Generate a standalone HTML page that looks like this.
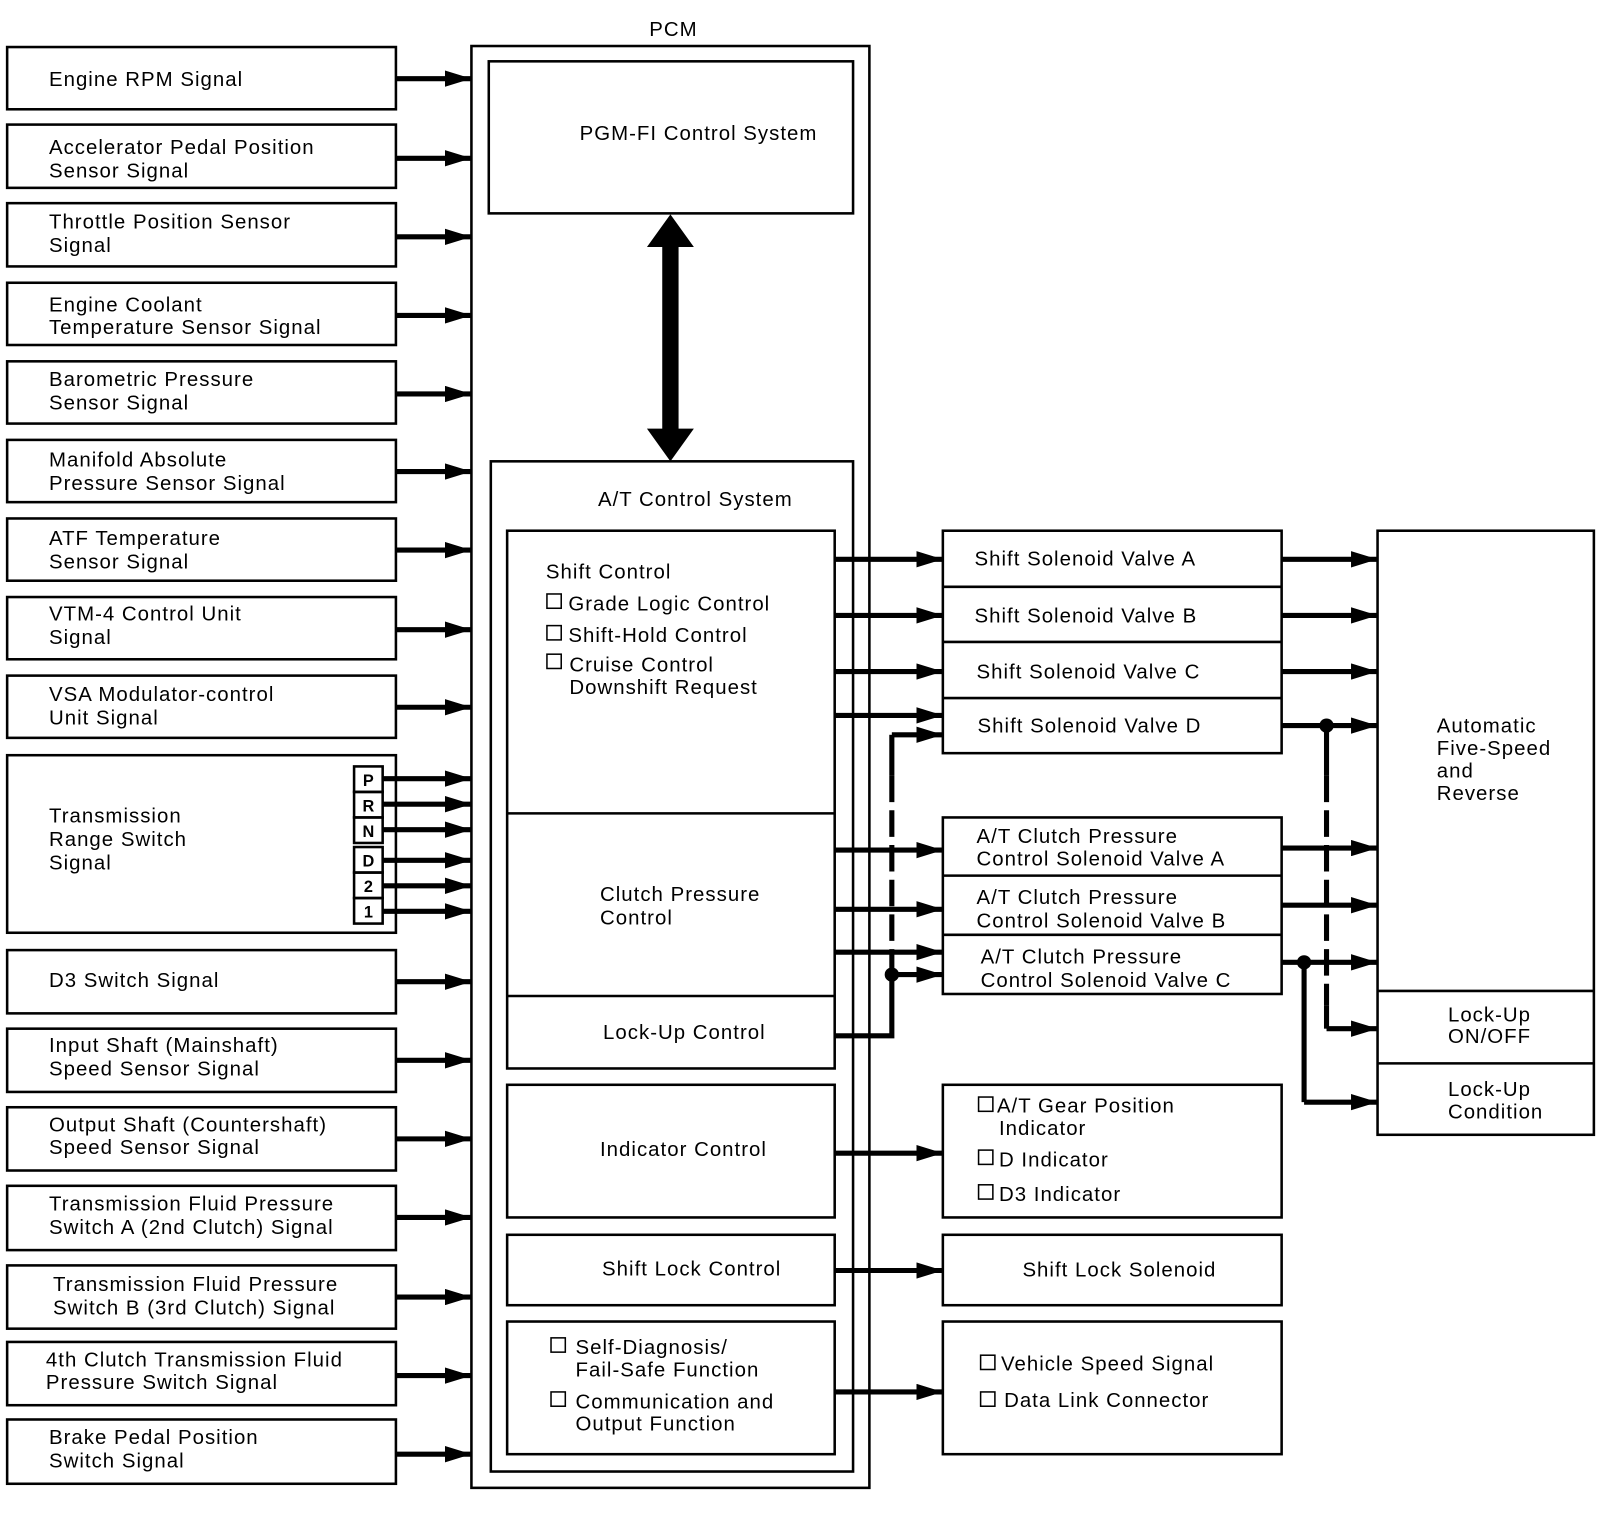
<!DOCTYPE html>
<html><head><meta charset="utf-8"><style>
html,body{margin:0;padding:0;background:#fff;width:1600px;height:1540px;overflow:hidden}
svg text{font-family:"Liberation Sans",Arial,sans-serif;font-size:20px;fill:#000;letter-spacing:1px}
</style></head><body>
<svg width="1600" height="1540" viewBox="0 0 1568 1509" xmlns="http://www.w3.org/2000/svg">
<defs>
<marker id="ah" markerUnits="userSpaceOnUse" markerWidth="26" markerHeight="16" refX="26" refY="8" orient="auto"><path d="M0,0 L26,8 L0,16 z" fill="#000"/></marker>
</defs>
<g fill="none" stroke="#000" stroke-width="2.5">
<rect x="7" y="46" width="381" height="61"/>
<rect x="7" y="122" width="381" height="62"/>
<rect x="7" y="199" width="381" height="62"/>
<rect x="7" y="277" width="381" height="61"/>
<rect x="7" y="354" width="381" height="61"/>
<rect x="7" y="431" width="381" height="61"/>
<rect x="7" y="508" width="381" height="61"/>
<rect x="7" y="585" width="381" height="61"/>
<rect x="7" y="662" width="381" height="61"/>
<rect x="7" y="740" width="381" height="174"/>
<rect x="7" y="931" width="381" height="62"/>
<rect x="7" y="1008" width="381" height="62"/>
<rect x="7" y="1085" width="381" height="62"/>
<rect x="7" y="1162" width="381" height="63"/>
<rect x="7" y="1240" width="381" height="62"/>
<rect x="7" y="1315" width="381" height="62"/>
<rect x="7" y="1391" width="381" height="63"/>
<rect x="347" y="751" width="28" height="25"/>
<rect x="347" y="776" width="28" height="25"/>
<rect x="347" y="801" width="28" height="25"/>
<rect x="347" y="830" width="28" height="25"/>
<rect x="347" y="855" width="28" height="25"/>
<rect x="347" y="880" width="28" height="25"/>
<rect x="462" y="45" width="390" height="1413"/>
<rect x="479" y="60" width="357" height="149"/>
<rect x="481" y="452" width="355" height="990"/>
<rect x="497" y="520" width="321" height="527"/>
<line x1="497" y1="797" x2="818" y2="797"/>
<line x1="497" y1="976" x2="818" y2="976"/>
<rect x="497" y="1063" width="321" height="130"/>
<rect x="497" y="1210" width="321" height="69"/>
<rect x="497" y="1295" width="321" height="130"/>
<rect x="924" y="520" width="332" height="218"/>
<line x1="924" y1="575" x2="1256" y2="575"/>
<line x1="924" y1="629" x2="1256" y2="629"/>
<line x1="924" y1="684" x2="1256" y2="684"/>
<rect x="924" y="801" width="332" height="173"/>
<line x1="924" y1="858" x2="1256" y2="858"/>
<line x1="924" y1="916" x2="1256" y2="916"/>
<rect x="924" y="1063" width="332" height="130"/>
<rect x="924" y="1210" width="332" height="69"/>
<rect x="924" y="1295" width="332" height="130"/>
<rect x="1350" y="520" width="212" height="592"/>
<line x1="1350" y1="971" x2="1562" y2="971"/>
<line x1="1350" y1="1042" x2="1562" y2="1042"/>
<rect x="536" y="582" width="14" height="14" stroke-width="1.5"/>
<rect x="536" y="613" width="14" height="14" stroke-width="1.5"/>
<rect x="536" y="641" width="14" height="14" stroke-width="1.5"/>
<rect x="540" y="1311" width="14" height="14" stroke-width="1.5"/>
<rect x="540" y="1364" width="14" height="14" stroke-width="1.5"/>
<rect x="959" y="1075" width="14" height="14" stroke-width="1.5"/>
<rect x="959" y="1127" width="14" height="14" stroke-width="1.5"/>
<rect x="959" y="1161" width="14" height="14" stroke-width="1.5"/>
<rect x="961" y="1328" width="14" height="14" stroke-width="1.5"/>
<rect x="961" y="1364" width="14" height="14" stroke-width="1.5"/>
</g>
<g stroke="#000" stroke-width="5" fill="none" marker-end="url(#ah)">
<line x1="388" y1="77" x2="462" y2="77"/>
<line x1="388" y1="155" x2="462" y2="155"/>
<line x1="388" y1="232" x2="462" y2="232"/>
<line x1="388" y1="309" x2="462" y2="309"/>
<line x1="388" y1="386" x2="462" y2="386"/>
<line x1="388" y1="462" x2="462" y2="462"/>
<line x1="388" y1="539" x2="462" y2="539"/>
<line x1="388" y1="617" x2="462" y2="617"/>
<line x1="388" y1="693" x2="462" y2="693"/>
<line x1="375" y1="763" x2="462" y2="763"/>
<line x1="375" y1="788" x2="462" y2="788"/>
<line x1="375" y1="813" x2="462" y2="813"/>
<line x1="375" y1="843" x2="462" y2="843"/>
<line x1="375" y1="868" x2="462" y2="868"/>
<line x1="375" y1="893" x2="462" y2="893"/>
<line x1="388" y1="962" x2="462" y2="962"/>
<line x1="388" y1="1039" x2="462" y2="1039"/>
<line x1="388" y1="1116" x2="462" y2="1116"/>
<line x1="388" y1="1193" x2="462" y2="1193"/>
<line x1="388" y1="1271" x2="462" y2="1271"/>
<line x1="388" y1="1348" x2="462" y2="1348"/>
<line x1="388" y1="1425" x2="462" y2="1425"/>
<line x1="818" y1="548" x2="924" y2="548"/>
<line x1="818" y1="603" x2="924" y2="603"/>
<line x1="818" y1="658" x2="924" y2="658"/>
<line x1="818" y1="701" x2="924" y2="701"/>
<line x1="874" y1="720" x2="924" y2="720"/>
<line x1="818" y1="833" x2="924" y2="833"/>
<line x1="818" y1="891" x2="924" y2="891"/>
<line x1="818" y1="933" x2="924" y2="933"/>
<line x1="874" y1="955" x2="924" y2="955"/>
<line x1="818" y1="1130" x2="924" y2="1130"/>
<line x1="818" y1="1245" x2="924" y2="1245"/>
<line x1="818" y1="1364" x2="924" y2="1364"/>
<line x1="1256" y1="548" x2="1350" y2="548"/>
<line x1="1256" y1="603" x2="1350" y2="603"/>
<line x1="1256" y1="658" x2="1350" y2="658"/>
<line x1="1256" y1="711" x2="1350" y2="711"/>
<line x1="1256" y1="831" x2="1350" y2="831"/>
<line x1="1256" y1="887" x2="1350" y2="887"/>
<line x1="1256" y1="943" x2="1350" y2="943"/>
<line x1="1300" y1="1008" x2="1350" y2="1008"/>
<line x1="1278" y1="1080" x2="1350" y2="1080"/>
</g>
<g stroke="#000" stroke-width="5" fill="none">
<polyline points="818,1015 874,1015 874,955"/>
<line x1="874" y1="720" x2="874" y2="760"/>
<line x1="874" y1="760" x2="874" y2="955" stroke-dasharray="26,8"/>
<line x1="1300" y1="711" x2="1300" y2="760"/>
<line x1="1300" y1="760" x2="1300" y2="985" stroke-dasharray="26,8"/>
<line x1="1300" y1="985" x2="1300" y2="1008"/>
<line x1="1278" y1="943" x2="1278" y2="1080"/>
</g>
<circle cx="874" cy="955" r="7"/>
<circle cx="1300" cy="711" r="7"/>
<circle cx="1278" cy="943" r="7"/>
<path d="M657,210 L680,242 L665,242 L665,420 L680,420 L657,452 L634,420 L649,420 L649,242 L634,242 z" fill="#000"/>
<text x="660" y="35" text-anchor="middle">PCM</text>
<text x="48" y="84">Engine RPM Signal</text>
<text x="48" y="151">Accelerator Pedal Position</text><text x="48" y="174">Sensor Signal</text>
<text x="48" y="224">Throttle Position Sensor</text><text x="48" y="247">Signal</text>
<text x="48" y="305">Engine Coolant</text><text x="48" y="327">Temperature Sensor Signal</text>
<text x="48" y="378">Barometric Pressure</text><text x="48" y="401">Sensor Signal</text>
<text x="48" y="457">Manifold Absolute</text><text x="48" y="480">Pressure Sensor Signal</text>
<text x="48" y="534">ATF Temperature</text><text x="48" y="557">Sensor Signal</text>
<text x="48" y="608">VTM-4 Control Unit</text><text x="48" y="631">Signal</text>
<text x="48" y="687">VSA Modulator-control</text><text x="48" y="710">Unit Signal</text>
<text x="48" y="806">Transmission</text><text x="48" y="829">Range Switch</text><text x="48" y="852">Signal</text>
<text x="361" y="770" text-anchor="middle" style="font-size:16px;font-weight:bold;letter-spacing:0">P</text>
<text x="361" y="795" text-anchor="middle" style="font-size:16px;font-weight:bold;letter-spacing:0">R</text>
<text x="361" y="820" text-anchor="middle" style="font-size:16px;font-weight:bold;letter-spacing:0">N</text>
<text x="361" y="849" text-anchor="middle" style="font-size:16px;font-weight:bold;letter-spacing:0">D</text>
<text x="361" y="874" text-anchor="middle" style="font-size:16px;font-weight:bold;letter-spacing:0">2</text>
<text x="361" y="899" text-anchor="middle" style="font-size:16px;font-weight:bold;letter-spacing:0">1</text>
<text x="48" y="967">D3 Switch Signal</text>
<text x="48" y="1031">Input Shaft (Mainshaft)</text><text x="48" y="1054">Speed Sensor Signal</text>
<text x="48" y="1109">Output Shaft (Countershaft)</text><text x="48" y="1131">Speed Sensor Signal</text>
<text x="48" y="1186">Transmission Fluid Pressure</text><text x="48" y="1209">Switch A (2nd Clutch) Signal</text>
<text x="52" y="1265">Transmission Fluid Pressure</text><text x="52" y="1288">Switch B (3rd Clutch) Signal</text>
<text x="45" y="1339">4th Clutch Transmission Fluid</text><text x="45" y="1361">Pressure Switch Signal</text>
<text x="48" y="1415">Brake Pedal Position</text><text x="48" y="1438">Switch Signal</text>
<text x="568" y="137">PGM-FI Control System</text>
<text x="586" y="496">A/T Control System</text>
<text x="535" y="567">Shift Control</text>
<text x="557" y="598">Grade Logic Control</text>
<text x="557" y="629">Shift-Hold Control</text>
<text x="558" y="658">Cruise Control</text><text x="558" y="680">Downshift Request</text>
<text x="588" y="883">Clutch Pressure</text><text x="588" y="906">Control</text>
<text x="591" y="1018">Lock-Up Control</text>
<text x="588" y="1133">Indicator Control</text>
<text x="590" y="1250">Shift Lock Control</text>
<text x="564" y="1327">Self-Diagnosis/</text><text x="564" y="1349">Fail-Safe Function</text>
<text x="564" y="1380">Communication and</text><text x="564" y="1402">Output Function</text>
<text x="955" y="554">Shift Solenoid Valve A</text>
<text x="955" y="610">Shift Solenoid Valve B</text>
<text x="957" y="665">Shift Solenoid Valve C</text>
<text x="958" y="718">Shift Solenoid Valve D</text>
<text x="957" y="826">A/T Clutch Pressure</text><text x="957" y="848">Control Solenoid Valve A</text>
<text x="957" y="886">A/T Clutch Pressure</text><text x="957" y="909">Control Solenoid Valve B</text>
<text x="961" y="944">A/T Clutch Pressure</text><text x="961" y="967">Control Solenoid Valve C</text>
<text x="977" y="1090">A/T Gear Position</text><text x="979" y="1112">Indicator</text>
<text x="979" y="1143">D Indicator</text>
<text x="979" y="1177">D3 Indicator</text>
<text x="1002" y="1251">Shift Lock Solenoid</text>
<text x="981" y="1343">Vehicle Speed Signal</text>
<text x="984" y="1379">Data Link Connector</text>
<text x="1408" y="718">Automatic</text><text x="1408" y="740">Five-Speed</text><text x="1408" y="762">and</text><text x="1408" y="784">Reverse</text>
<text x="1419" y="1001">Lock-Up</text><text x="1419" y="1022">ON/OFF</text>
<text x="1419" y="1074">Lock-Up</text><text x="1419" y="1096">Condition</text>
</svg>
</body></html>
